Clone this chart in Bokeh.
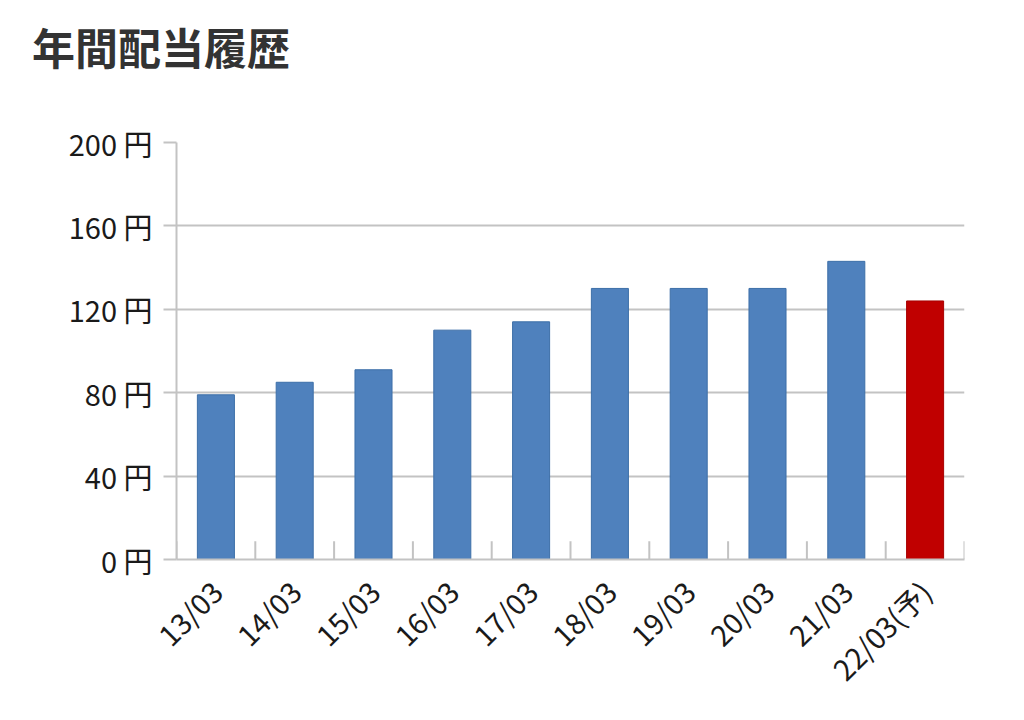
from bokeh.plotting import figure
from bokeh.embed import file_html
from bokeh.resources import INLINE
from bokeh.models import ColumnDataSource, FixedTicker, Range1d, Div
from bokeh.layouts import column
from bokeh.transform import dodge
import math

# annual dividend per share (yen)
years = ["13/03", "14/03", "15/03", "16/03", "17/03",
         "18/03", "19/03", "20/03", "21/03", "22/03(予)"]
dividends = [79, 85, 91, 110, 114, 130, 130, 130, 143, 124]
y_ticks = [0, 40, 80, 120, 160, 200]
y_tick_labels = ["0 円", "40 円", "80 円", "120 円", "160 円", "200 円"]
chart_title = "年間配当履歴"

BLUE = "#4F81BD"
BLUE_EDGE = "#3D6FA8"
RED = "#C00000"
RED_EDGE = "#A80000"
GRID = "#C3C3C3"
FONT = "Noto Sans CJK JP"

colors = [RED if "予" in y else BLUE for y in years]
edges = [RED_EDGE if "予" in y else BLUE_EDGE for y in years]
source = ColumnDataSource(data=dict(year=years, value=dividends, color=colors, edge=edges))

# heading above the chart
heading = Div(text=chart_title, width=1008, height=100, margin=0,
              styles={"font-family": FONT, "font-size": "43px", "font-weight": "bold",
                      "color": "#333333", "padding-left": "32px", "padding-top": "16px",
                      "box-sizing": "border-box"})

p = figure(x_range=years, y_range=Range1d(0, 200), width=1008, height=616,
           output_backend="svg", toolbar_location=None,
           min_border_left=176, min_border_right=44, min_border_top=42, min_border_bottom=157)

p.vbar(x="year", top="value", width=0.47, source=source,
       fill_color="color", line_color="edge", line_width=1)

# small upward ticks at the category boundaries
tick_src = ColumnDataSource(data=dict(year=years, y0=[0] * len(years), y1=[8.8] * len(years)))
p.segment(x0=dodge("year", -0.5, range=p.x_range), y0="y0",
          x1=dodge("year", -0.5, range=p.x_range), y1="y1",
          source=tick_src, line_color=GRID, line_width=2)
end_src = ColumnDataSource(data=dict(year=years[-1:], y0=[0], y1=[8.8]))
p.segment(x0=dodge("year", 0.5, range=p.x_range), y0="y0",
          x1=dodge("year", 0.5, range=p.x_range), y1="y1",
          source=end_src, line_color=GRID, line_width=2)

# y axis
p.yaxis.ticker = FixedTicker(ticks=y_ticks)
p.yaxis.major_label_overrides = {t: l for t, l in zip(y_ticks, y_tick_labels)}
p.yaxis.axis_line_color = GRID
p.yaxis.axis_line_width = 2
p.yaxis.major_tick_line_color = GRID
p.yaxis.major_tick_line_width = 2
p.yaxis.major_tick_out = 13
p.yaxis.major_tick_in = 0
p.yaxis.minor_tick_line_color = None
p.yaxis.major_label_standoff = 11
p.yaxis.major_label_text_font = FONT
p.yaxis.major_label_text_font_size = "29px"
p.yaxis.major_label_text_color = "#1a1a1a"

# x axis
p.xaxis.axis_line_color = GRID
p.xaxis.axis_line_width = 2
p.xaxis.major_tick_line_color = None
p.xaxis.major_label_orientation = math.pi / 4
p.xaxis.major_label_text_font = FONT
p.xaxis.major_label_text_font_size = "29px"
p.xaxis.major_label_text_color = "#1a1a1a"
p.xaxis.major_label_standoff = 20

p.xgrid.grid_line_color = None
p.ygrid.grid_line_color = GRID
p.ygrid.grid_line_width = 2
p.outline_line_color = None
p.x_range.range_padding = 0

layout = column(heading, p, spacing=0)

open("out.html", "w").write(file_html(layout, INLINE))
